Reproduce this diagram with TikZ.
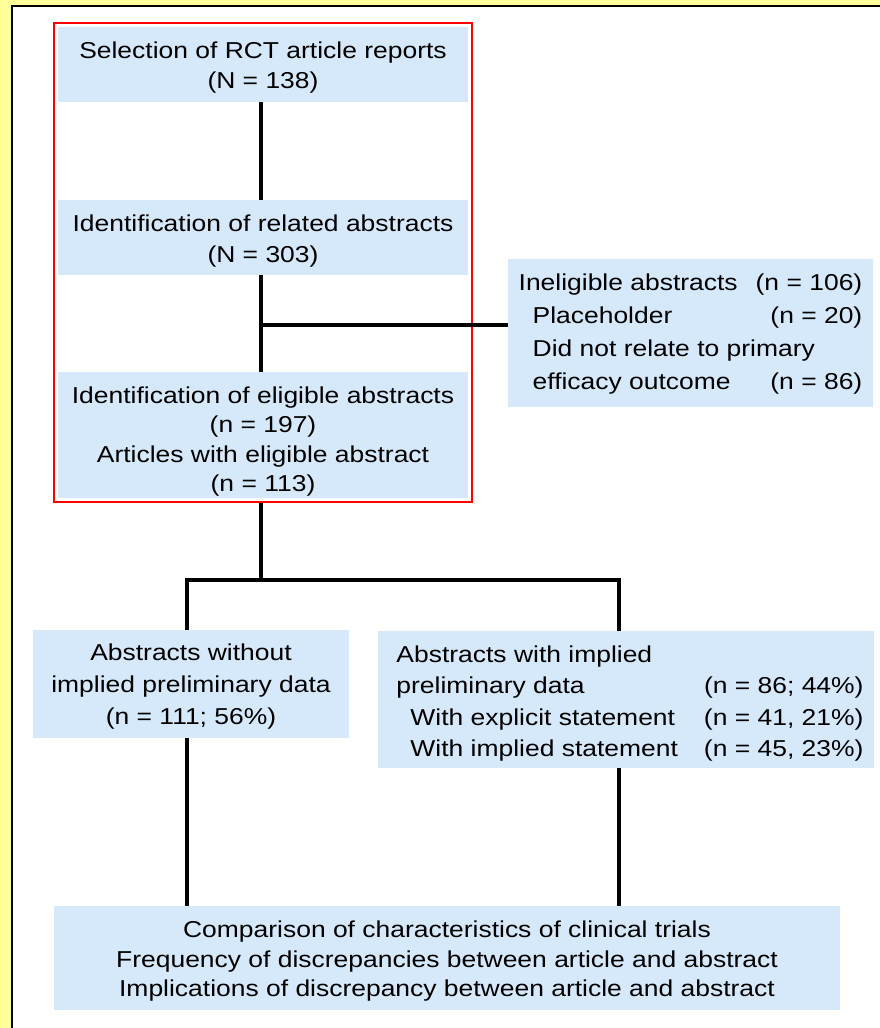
\documentclass[tikz,border=0pt]{standalone}
\usepackage{fontspec}
\setmainfont{Liberation Sans}[FakeStretch=1.15]
\usetikzlibrary{fit,calc}
\definecolor{bgyellow}{RGB}{255,255,153}
\definecolor{boxblue}{RGB}{214,233,250}
\newcommand{\shiftdown}[2]{\raisebox{#1}[\height][\depth]{#2}}
\begin{document}
\begin{tikzpicture}[x=1pt,y=-1pt,
  box/.style={fill=boxblue, inner sep=0pt, align=center},
  conn/.style={line width=3.5pt},
  group/.style={draw=red, line width=1.8pt, inner sep=4pt},
]
\useasboundingbox (0,0) rectangle (880,1028);
\fill[bgyellow] (0,0) rectangle (880,1028);
\fill[white] (12,6) rectangle (880,1028);
\draw[line width=2.5pt] (12,1028) -- (12,6) -- (880,6);

\node[box, minimum width=410, minimum height=75, font=\fontsize{23}{30}\selectfont] (b1) at (263,64.5)
  {\shiftdown{-2.8pt}{\begin{tabular}{@{}c@{}}Selection of RCT article reports\\(N = 138)\end{tabular}}};
\node[box, minimum width=410, minimum height=75, font=\fontsize{23}{31}\selectfont] (b2) at (263,237.5)
  {\shiftdown{-3.5pt}{\begin{tabular}{@{}c@{}}Identification of related abstracts\\(N = 303)\end{tabular}}};
\node[box, minimum width=410, minimum height=126, font=\fontsize{23}{29.3}\selectfont] (b3) at (263,435)
  {\shiftdown{-6.6pt}{\begin{tabular}{@{}c@{}}Identification of eligible abstracts\\(n = 197)\\Articles with eligible abstract\\(n = 113)\end{tabular}}};
\node[box, minimum width=365, minimum height=148, font=\fontsize{23}{33}\selectfont] (b4) at (690.5,333)
  {\begin{tabular}{@{}l@{\hspace{18pt}}r@{}}
   Ineligible abstracts & (n = 106)\\
   \hspace{14pt}Placeholder & (n = 20)\\
   \multicolumn{2}{@{}l@{}}{\hspace{14pt}Did not relate to primary}\\
   \hspace{14pt}efficacy outcome & (n = 86)
   \end{tabular}};
\node[box, minimum width=316, minimum height=108, font=\fontsize{23}{32}\selectfont] (b5) at (191,684)
  {\shiftdown{-2.1pt}{\begin{tabular}{@{}c@{}}Abstracts without\\implied preliminary data\\(n = 111; 56\%)\end{tabular}}};
\node[box, minimum width=496, minimum height=137, font=\fontsize{23}{31.3}\selectfont] (b6) at (626,699.5)
  {\hspace*{8pt}\shiftdown{-3.7pt}{\begin{tabular}{@{}l@{\hspace{26pt}}r@{}}
   \multicolumn{2}{@{}l@{}}{Abstracts with implied}\\
   preliminary data & (n = 86; 44\%)\\
   \hspace{14pt}With explicit statement & (n = 41, 21\%)\\
   \hspace{14pt}With implied statement & (n = 45, 23\%)
   \end{tabular}}};
\node[box, minimum width=786, minimum height=104, font=\fontsize{23}{29.5}\selectfont] (b7) at (447,958)
  {\shiftdown{-3.1pt}{\begin{tabular}{@{}c@{}}Comparison of characteristics of clinical trials\\
   Frequency of discrepancies between article and abstract\\
   Implications of discrepancy between article and abstract\end{tabular}}};

\node[group, fit=(b1)(b2)(b3)] (grp) {};

\coordinate (xa) at (261,0);
\coordinate (xl) at (187,0);
\coordinate (xr) at (619,0);
\coordinate (j1) at (261,325);
\coordinate (j2) at (261,580);

\draw[conn] (b1.south -| xa) -- (b2.north -| xa);
\draw[conn] (b2.south -| xa) -- (b3.north -| xa);
\draw[conn] (j1) -- (j1 -| b4.west);
\draw[conn] (grp.south -| xa) -- (j2);
\draw[conn] (b5.north -| xl) |- (j2) -| (b6.north -| xr);
\draw[conn] (b5.south -| xl) -- (b7.north -| xl);
\draw[conn] (b6.south -| xr) -- (b7.north -| xr);
\end{tikzpicture}
\end{document}
